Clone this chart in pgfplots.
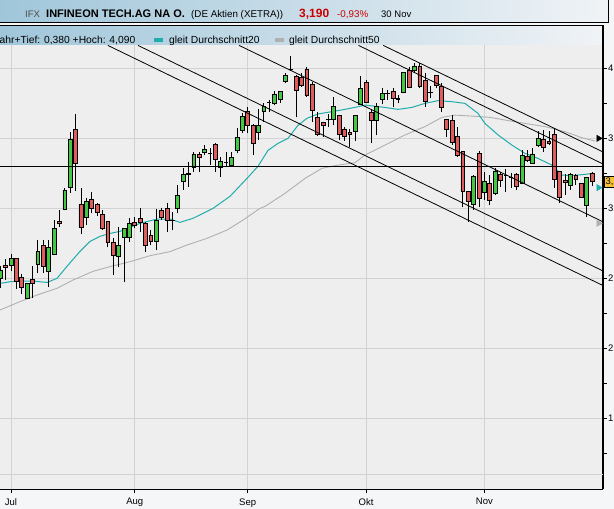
\documentclass[border=0pt]{standalone}
\usepackage{fontspec}
\setmainfont{Liberation Sans}
\usepackage{pgfplots}
\pgfplotsset{compat=1.18}
\usepackage{pgfplotstable}

\definecolor{upg}{RGB}{68,200,68}
\definecolor{dnr}{RGB}{222,92,92}
\definecolor{ma20}{RGB}{32,172,172}
\definecolor{ma50}{RGB}{176,176,176}
\definecolor{plotbg}{RGB}{238,238,238}
\definecolor{pagebg}{RGB}{245,246,248}
\definecolor{gridc}{RGB}{210,210,210}
\definecolor{barL}{RGB}{160,198,218}
\definecolor{barR}{RGB}{240,243,246}
\definecolor{pricebox}{RGB}{247,194,58}
\definecolor{pricered}{RGB}{204,0,0}

% day index (0 = 1 Jul), open, high, low, close
\pgfplotstableread{
d o h l c
-2 2.500 2.586 2.430 2.557
0 2.595 2.674 2.552 2.640
3 2.359 2.465 2.350 2.461
5 2.602 2.774 2.536 2.690
7 2.552 2.774 2.440 2.719
8 2.671 2.917 2.667 2.857
10 2.990 3.148 2.985 3.126
11 3.148 3.548 3.112 3.495
14 2.936 3.071 2.881 3.048
20 2.657 2.864 2.583 2.733
21 2.790 2.860 2.476 2.855
22 2.790 2.930 2.760 2.890
27 2.762 2.995 2.702 2.912
31 3.000 3.167 2.964 3.095
32 3.190 3.286 3.131 3.243
34 3.290 3.405 3.257 3.388
36 3.400 3.452 3.380 3.421
39 3.293 3.369 3.226 3.338
41 3.310 3.400 3.300 3.362
42 3.416 3.571 3.393 3.505
43 3.559 3.679 3.536 3.659
46 3.540 3.709 3.488 3.590
47 3.690 3.750 3.619 3.726
49 3.750 3.838 3.738 3.816
50 3.781 3.840 3.755 3.838
51 3.905 3.969 3.893 3.952
60 3.638 3.798 3.595 3.726
64 3.548 3.670 3.483 3.664
65 3.743 3.948 3.738 3.855
68 3.626 3.755 3.524 3.731
69 3.779 3.857 3.743 3.821
73 3.826 3.976 3.821 3.971
75 3.983 4.036 3.964 4.017
86 3.031 3.238 2.988 3.231
88 3.116 3.262 3.060 3.190
90 3.107 3.290 3.095 3.267
95 3.179 3.416 3.171 3.381
97 3.321 3.429 3.317 3.386
98 3.452 3.552 3.440 3.500
104 3.162 3.250 3.131 3.243
107 3.019 3.220 2.940 3.219
}\upcandles

\pgfplotstableread{
d o h l c
-1 2.595 2.638 2.488 2.576
1 2.640 2.645 2.424 2.481
2 2.505 2.529 2.388 2.436
4 2.491 2.590 2.357 2.464
6 2.733 2.774 2.540 2.583
9 2.907 2.986 2.869 2.890
12 3.562 3.671 3.126 3.321
13 3.031 3.143 2.817 2.864
15 3.062 3.119 2.964 3.000
16 3.031 3.035 2.948 2.969
17 2.955 2.986 2.845 2.857
18 2.905 2.910 2.721 2.757
19 2.755 2.786 2.524 2.662
23 2.900 2.940 2.857 2.879
24 2.926 3.000 2.833 2.900
25 2.893 2.900 2.690 2.738
26 2.805 2.845 2.738 2.767
28 2.988 3.000 2.920 2.933
29 3.000 3.040 2.833 2.917
35 3.388 3.405 3.262 3.362
38 3.459 3.466 3.260 3.350
44 3.695 3.726 3.536 3.590
45 3.590 3.600 3.381 3.464
53 3.940 3.952 3.650 3.845
54 3.933 3.964 3.869 3.881
55 3.993 4.007 3.798 3.805
56 3.888 3.905 3.619 3.698
57 3.650 3.690 3.517 3.531
58 3.612 3.615 3.512 3.590
61 3.662 3.670 3.488 3.529
62 3.567 3.583 3.483 3.512
63 3.543 3.564 3.440 3.529
66 3.898 3.917 3.750 3.755
67 3.683 3.707 3.464 3.626
71 3.833 3.862 3.726 3.786
74 3.988 4.012 3.857 3.864
76 4.017 4.036 3.857 3.869
77 3.912 3.964 3.726 3.762
79 3.952 3.955 3.857 3.881
80 3.869 3.893 3.690 3.721
81 3.636 3.640 3.512 3.564
82 3.631 3.667 3.452 3.471
83 3.512 3.583 3.369 3.376
84 3.405 3.412 3.012 3.119
85 3.119 3.120 2.905 3.048
87 3.393 3.412 3.012 3.071
89 3.179 3.238 3.024 3.060
91 3.243 3.257 3.155 3.202
94 3.243 3.250 3.131 3.159
96 3.369 3.416 3.333 3.340
99 3.495 3.559 3.405 3.436
100 3.481 3.552 3.452 3.464
101 3.529 3.564 3.143 3.209
102 3.262 3.267 3.040 3.076
103 3.202 3.243 3.095 3.186
105 3.238 3.243 3.167 3.209
106 3.179 3.180 3.071 3.079
108 3.250 3.257 3.162 3.190
}\downcandles

\pgfplotstableread{
d o h l c
30 2.916 2.976 2.845 2.912
33 3.247 3.330 3.155 3.243
37 3.395 3.430 3.310 3.391
40 3.332 3.400 3.300 3.328
48 3.757 3.774 3.690 3.753
52 3.996 4.090 3.980 3.992
59 3.638 3.674 3.583 3.634
70 3.822 3.845 3.774 3.818
72 3.783 3.810 3.750 3.779
78 3.830 3.874 3.786 3.826
92 3.235 3.281 3.119 3.231
93 3.221 3.250 3.143 3.217
}\dojis

\pgfplotstableread{
d p
-2.04 2.464
-0.19 2.476
1.67 2.481
4.09 2.481
6.69 2.471
8.55 2.500
10.41 2.586
12.83 2.693
14.68 2.764
16.54 2.800
18.40 2.821
20.26 2.836
23.98 2.893
27.14 2.924
29.55 2.924
31.41 2.900
33.83 2.929
37.55 3.000
40.71 3.086
43.87 3.214
45.91 3.300
47.77 3.414
49.63 3.464
51.49 3.500
53.35 3.593
55.02 3.643
57.06 3.674
59.67 3.691
62.08 3.707
64.50 3.726
65.80 3.738
69.52 3.721
71.93 3.707
74.54 3.721
76.95 3.750
79.37 3.769
81.97 3.762
84.39 3.750
86.80 3.679
88.10 3.607
90.57 3.524
93.12 3.452
95.54 3.393
97.96 3.357
100.56 3.309
102.42 3.238
104.28 3.234
106.69 3.243
108.18 3.250
}\smatwenty

\pgfplotstableread{
d p
-2.04 2.274
1.67 2.334
4.83 2.381
8.55 2.429
11.52 2.488
15.24 2.550
18.40 2.584
22.12 2.619
25.84 2.662
29.55 2.691
32.71 2.738
36.43 2.786
40.15 2.845
43.12 2.916
46.28 3.000
47.21 3.014
50.93 3.107
54.65 3.214
57.81 3.286
60.78 3.309
63.94 3.326
65.80 3.381
69.52 3.452
73.23 3.524
76.95 3.584
80.11 3.650
82.53 3.666
85.69 3.659
89.03 3.650
91.82 3.631
95.54 3.607
99.26 3.584
102.97 3.548
106.13 3.505
108.55 3.481
}\smafifty

\pgfplotsset{
  chartbox/.style={scale only axis, width=602.7pt, height=444pt,
    at={(0,14)}, anchor=south west,
    xmin=-2.045, xmax=110, ymin=0.993, ymax=4.164},
  wick/.style={draw=none, mark=none, forget plot,
    error bars/.cd, y dir=plus, y explicit, error mark=none,
    error bar style={draw=black, line width=0.8pt}},
}

\begin{document}
\begin{tikzpicture}[x=1pt,y=1pt]
\path[use as bounding box] (0,0) rectangle (614,509);
\begin{scope}[overlay]
\fill[pagebg] (0,0) rectangle (614,509);

% title bar
\shade[left color=barL, right color=barR] (-2,512) rectangle (608.3,486.8);
\draw[line width=1pt] (-2,486.8) -- (608.3,486.8) -- (608.3,512);
\node[anchor=base west, inner sep=0, text=black!70, font=\fontsize{9.5}{11}\selectfont] at (25,491.3) {IFX};
\node[anchor=base west, inner sep=0, font=\fontsize{11}{13}\selectfont\bfseries] at (46,491.3) {INFINEON TECH.AG NA O.};
\node[anchor=base west, inner sep=0, font=\fontsize{9.8}{12}\selectfont] at (191,491.3) {(DE Aktien (XETRA))};
\node[anchor=base west, inner sep=0, text=pricered, font=\fontsize{12}{14}\selectfont\bfseries] at (299,491.3) {3,190};
\node[anchor=base west, inner sep=0, text=pricered, font=\fontsize{9.8}{12}\selectfont] at (337,491.3) {-0,93\%};
\node[anchor=base west, inner sep=0, font=\fontsize{9.5}{12}\selectfont] at (381,491.3) {30 Nov};

% legend bar
\shade[left color=barL, right color=barR] (-2,483.3) rectangle (602.7,462.7);
\draw[line width=1.6pt] (-2,483.3) -- (602.7,483.3) -- (602.7,462.7);
\draw[line width=1.2pt] (-2,462.7) -- (602.7,462.7);
\node[anchor=base west, inner sep=0, font=\fontsize{10.3}{12}\selectfont] at (-5.6,465.7) {Jahr+Tief: 0,380 +Hoch: 4,090};
\fill[ma20] (154,467.3) rectangle (163,471.3);
\node[anchor=base west, inner sep=0, font=\fontsize{10.3}{12}\selectfont] at (169,465.7) {gleit Durchschnitt20};
\fill[ma50] (275,467.3) rectangle (284,471.3);
\node[anchor=base west, inner sep=0, font=\fontsize{10.3}{12}\selectfont] at (289,465.7) {gleit Durchschnitt50};

% grid, axes, moving averages, wicks
\begin{axis}[chartbox,
  axis background/.style={fill=plotbg},
  axis x line*=bottom, axis y line*=right,
  axis line style={line width=1.6pt},
  tick align=outside, major tick length=4pt, minor tick length=4pt,
  tick style={black, line width=0.8pt},
  xtick={0,23,44,66,88}, xticklabels={Jul,Aug,Sep,Okt,Nov},
  ytick={1.5,2,2.5,3,3.5,4},
  minor ytick={1.25,1.75,2.25,2.75,3.25,3.75},
  yticklabel pos=right,
  extra y ticks={1.1}, extra y tick labels={},
  extra y tick style={grid=major, major tick length=0pt},
  grid=major, major grid style={gridc, line width=0.8pt},
  tick label style={font=\fontsize{9.5}{11}\selectfont},
  xticklabel style={yshift=-1.5pt},
  /pgf/number format/assume math mode=true,
  /pgf/number format/use comma,
  yticklabel style={anchor=west, xshift=-2pt},
]
\addplot[ma50, line width=0.9pt] table[x=d, y=p] \smafifty;
\addplot[ma20, line width=1pt] table[x=d, y=p] \smatwenty;
\addplot[wick] table[x=d, y=l, y error expr=\thisrow{h}-\thisrow{l}] \upcandles;
\addplot[wick] table[x=d, y=l, y error expr=\thisrow{h}-\thisrow{l}] \downcandles;
\addplot[wick] table[x=d, y=l, y error expr=\thisrow{h}-\thisrow{l}] \dojis;
\addplot[draw=none, mark=none, error bars/.cd, x dir=both, x fixed=0.4, error mark=none,
  error bar style={draw=black, line width=1.2pt}]
  table[x=d, y expr=(\thisrow{o}+\thisrow{c})/2] \dojis;
\end{axis}

% rising bodies
\begin{axis}[chartbox, hide axis, ybar stacked, bar width=0.72]
\addplot[draw=none, fill=none] table[x=d, y=o] \upcandles;
\addplot[fill=upg, draw=black, line width=0.7pt] table[x=d, y expr=\thisrow{c}-\thisrow{o}] \upcandles;
\end{axis}

% falling bodies
\begin{axis}[chartbox, hide axis, ybar stacked, bar width=0.72]
\addplot[draw=none, fill=none] table[x=d, y=c] \downcandles;
\addplot[fill=dnr, draw=black, line width=0.7pt] table[x=d, y expr=\thisrow{o}-\thisrow{c}] \downcandles;
\end{axis}

% horizontal line, trend channel, markers
\begin{axis}[chartbox, hide axis, clip=false]
\addplot[black, line width=1.2pt] coordinates {(-2.045,3.30) (110,3.30)};
\addplot[black, line width=0.8pt] coordinates {(69.2,4.164) (110,3.404)};
\addplot[black, line width=0.8pt] coordinates {(64.6,4.164) (110,3.318)};
\addplot[black, line width=0.8pt] coordinates {(42.4,4.164) (110,2.905)};
\addplot[black, line width=0.8pt] coordinates {(23.6,4.164) (110,2.554)};
\addplot[black, line width=0.8pt] coordinates {(18.0,4.164) (110,2.450)};
\addplot[only marks, mark=triangle*, mark size=3.6pt, mark options={rotate=-90, fill=black, draw=black}] coordinates {(109.25,3.50)};
\addplot[only marks, mark=triangle*, mark size=3.6pt, mark options={rotate=-90, fill=ma20, draw=ma20}] coordinates {(109.25,3.148)};
\addplot[only marks, mark=triangle*, mark size=3.6pt, mark options={rotate=-90, fill=ma50, draw=ma50}] coordinates {(109.25,2.893)};
\node[fill=pricebox, draw=black, line width=0.6pt, anchor=west, inner sep=1.2pt,
  font=\fontsize{9.5}{11}\selectfont] at (axis cs:110.25,3.19) {3,190};
\end{axis}
\end{scope}
\end{tikzpicture}
\end{document}
